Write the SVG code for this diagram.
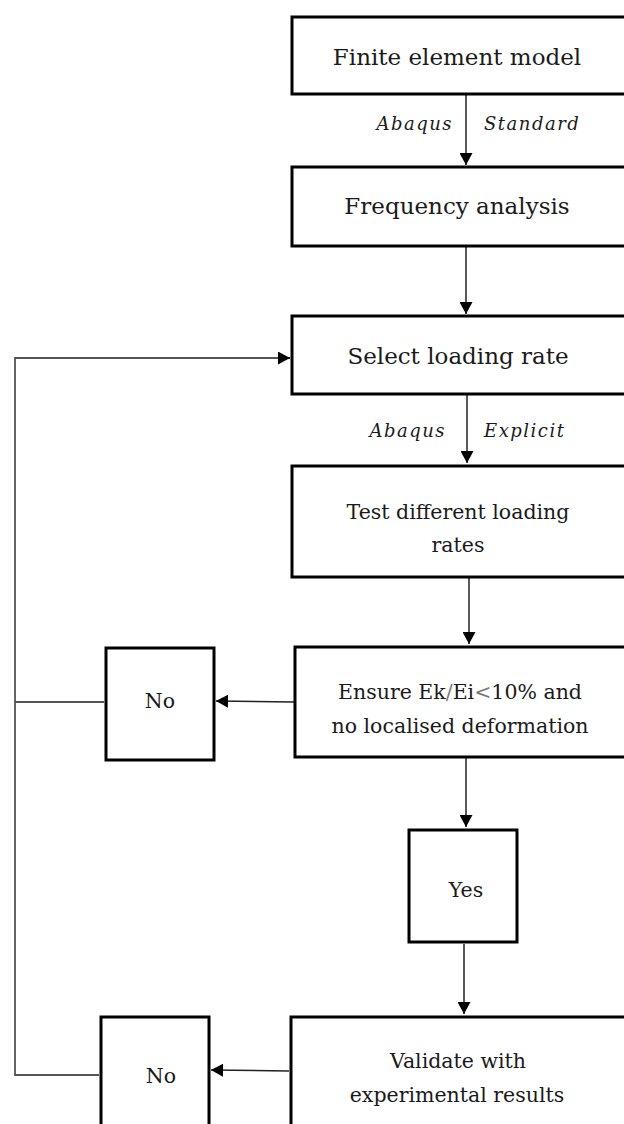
<svg xmlns="http://www.w3.org/2000/svg" width="624" height="1124" viewBox="0 0 624 1124">
<defs>
<style>
.box{fill:#fff;stroke:#000;stroke-width:3}
.t{font-family:"DejaVu Serif","Liberation Serif",serif;fill:#1a1a1a;text-anchor:middle}
.big{font-size:23px}
.mid{font-size:20.5px}
.lab{font-family:"DejaVu Serif","Liberation Serif",serif;font-style:italic;font-size:18px;fill:#1a1a1a;letter-spacing:1.5px}
.c{fill:none;stroke:#222;stroke-width:1.5}
.loop{fill:none;stroke:#555;stroke-width:1.8}
.dim{fill:#777}
</style>
<marker id="ah" markerUnits="userSpaceOnUse" markerWidth="13" markerHeight="13" refX="12" refY="6.5" orient="auto" viewBox="0 0 13 13">
<path d="M0,0 L12,6.5 L0,13 z" fill="#000"/>
</marker>
</defs>
<rect width="624" height="1124" fill="#fff"/>
<g id="connectors">
<line class="c" x1="466" y1="95" x2="466" y2="165" marker-end="url(#ah)"/>
<line class="c" x1="466" y1="247" x2="466" y2="314" marker-end="url(#ah)"/>
<line class="c" x1="467" y1="395" x2="467" y2="463" marker-end="url(#ah)"/>
<line class="c" x1="469" y1="578" x2="469" y2="644" marker-end="url(#ah)"/>
<line class="c" x1="294" y1="702" x2="216" y2="701" marker-end="url(#ah)"/>
<line class="c" x1="466" y1="758" x2="466" y2="827" marker-end="url(#ah)"/>
<line class="c" x1="464" y1="944" x2="464" y2="1014" marker-end="url(#ah)"/>
<line class="c" x1="289" y1="1071" x2="211" y2="1070" marker-end="url(#ah)"/>
<polyline class="loop" points="104,702 15,702"/>
<polyline class="loop" points="99,1075 15,1075 15,358 290,358"/>
<line class="c" x1="280" y1="358" x2="290" y2="358" marker-end="url(#ah)"/>
</g>
<g id="labels">
<text class="lab" x="453" y="130" text-anchor="end">Abaqus</text>
<text class="lab" x="484" y="130">Standard</text>
<text class="lab" x="446" y="437" text-anchor="end">Abaqus</text>
<text class="lab" x="484" y="437">Explicit</text>
</g>
<g id="n1"><rect class="box" x="292" y="17" width="340" height="77"/><text class="t big" x="457" y="65">Finite element model</text></g>
<g id="n2"><rect class="box" x="292" y="167" width="340" height="79"/><text class="t big" x="457" y="214">Frequency analysis</text></g>
<g id="n3"><rect class="box" x="292" y="316" width="340" height="78"/><text class="t big" x="458" y="364">Select loading rate</text></g>
<g id="n4"><rect class="box" x="292" y="466" width="340" height="111"/><text class="t mid" x="458" y="519">Test different loading</text><text class="t mid" x="458" y="552">rates</text></g>
<g id="n5"><rect class="box" x="295" y="647" width="340" height="110"/><text class="t mid" x="460" y="699">Ensure Ek<tspan class="dim">/</tspan>Ei<tspan class="dim">&lt;</tspan>10% and</text><text class="t mid" x="460" y="733">no localised deformation</text></g>
<g id="n6"><rect class="box" x="106" y="648" width="108" height="112"/><text class="t mid" x="160" y="708">No</text></g>
<g id="n7"><rect class="box" x="409" y="830" width="108" height="112"/><text class="t mid" x="466" y="897">Yes</text></g>
<g id="n8"><rect class="box" x="291" y="1017" width="340" height="120"/><text class="t mid" x="458" y="1068">Validate with</text><text class="t mid" x="457" y="1102">experimental results</text></g>
<g id="n9"><rect class="box" x="101" y="1017" width="108" height="120"/><text class="t mid" x="161" y="1083">No</text></g>
</svg>
